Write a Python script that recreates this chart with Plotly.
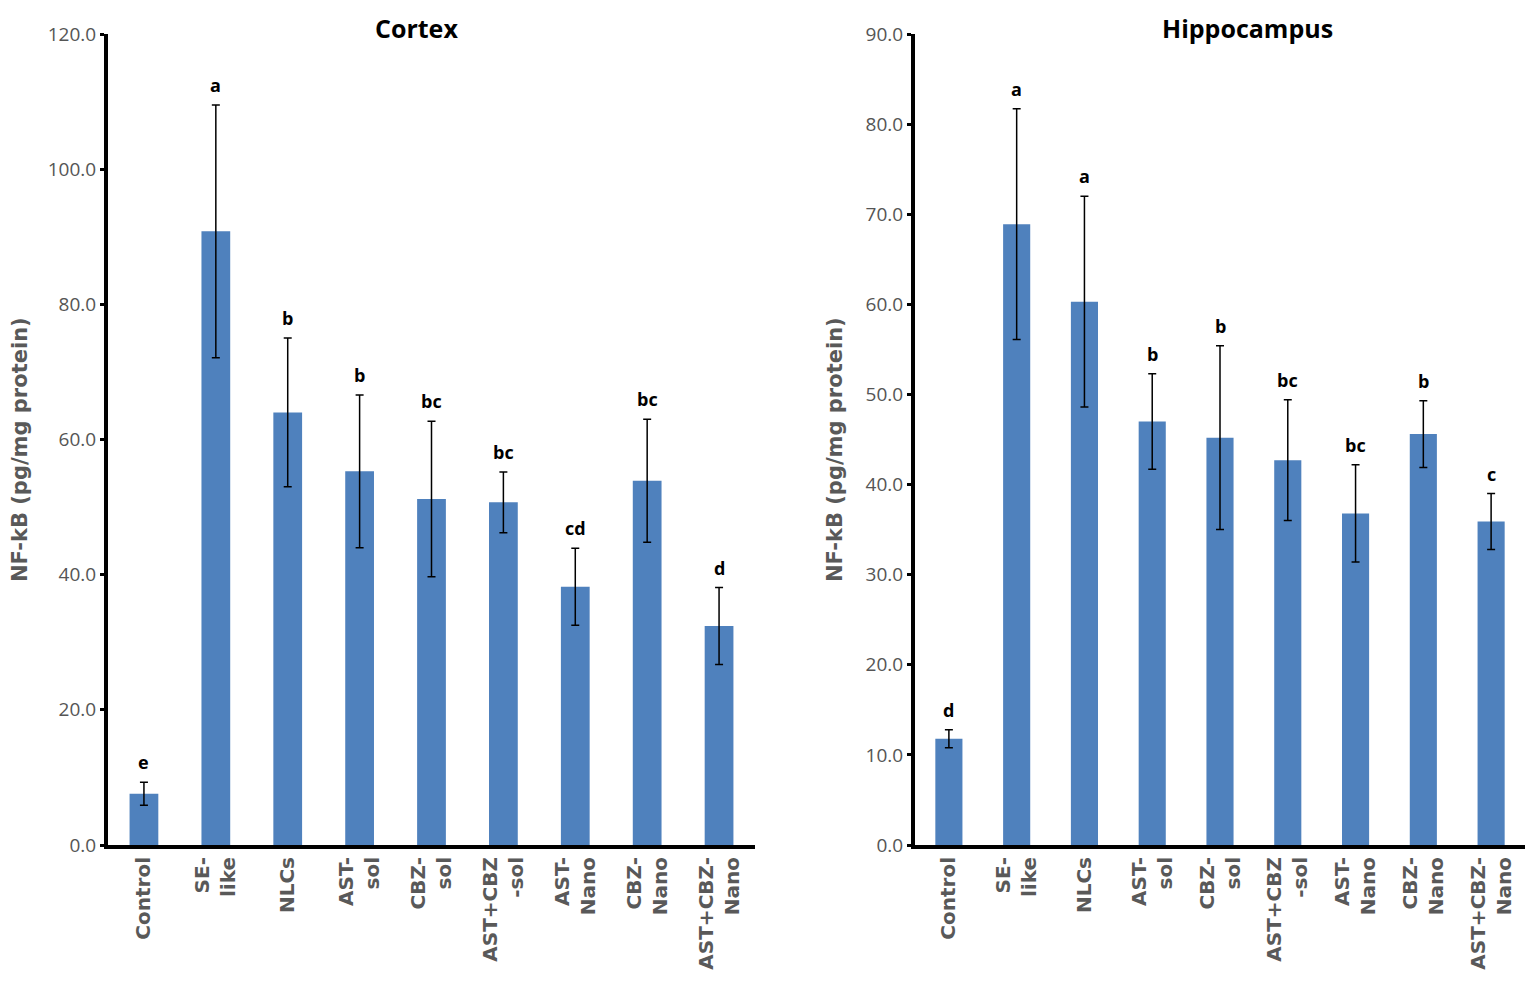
import plotly.graph_objs as go
from plotly.subplots import make_subplots

groups = ['Control', 'SE-<br>like', 'NLCs', 'AST-<br>sol', 'CBZ-<br>sol',
          'AST+CBZ<br>-sol', 'AST-<br>Nano', 'CBZ-<br>Nano', 'AST+CBZ-<br>Nano']

# cortex
cortex_mean = [7.6, 90.8, 64.0, 55.3, 51.2, 50.7, 38.2, 53.9, 32.4]
cortex_err = [1.7, 18.7, 11.0, 11.3, 11.5, 4.5, 5.7, 9.1, 5.7]
cortex_letters = ['e', 'a', 'b', 'b', 'bc', 'bc', 'cd', 'bc', 'd']

# hippocampus
hippo_mean = [11.8, 68.9, 60.3, 47.0, 45.2, 42.7, 36.8, 45.6, 35.9]
hippo_err = [1.0, 12.8, 11.7, 5.3, 10.2, 6.7, 5.4, 3.7, 3.1]
hippo_letters = ['d', 'a', 'a', 'b', 'b', 'bc', 'bc', 'b', 'c']

bar_color = '#4F81BD'
gray = '#595959'

# page has an 8px body margin, so work in a slightly smaller paper
W, H = 1519, 972


def build_bar(means, errs):
    return go.Bar(x=groups, y=means, marker=dict(color=bar_color, line=dict(width=0)),
                  error_y=dict(type='data', array=errs, visible=True,
                               color='black', thickness=1.5, width=4),
                  showlegend=False)


fig = make_subplots(1, 2)
fig.add_trace(build_bar(cortex_mean, cortex_err), 1, 1)
fig.add_trace(build_bar(hippo_mean, hippo_err), 1, 2)

annotations = []
for xref, yref, means, errs, letters in [('x', 'y', cortex_mean, cortex_err, cortex_letters),
                                         ('x2', 'y2', hippo_mean, hippo_err, hippo_letters)]:
    for g, m, e, t in zip(groups, means, errs, letters):
        annotations.append(dict(x=g, y=m + e, xref=xref, yref=yref, text='<b>%s</b>' % t,
                                showarrow=False, yanchor='bottom', yshift=6,
                                font=dict(family='Open Sans', size=18, color='black')))

for cx, name in [(408, 'Cortex'), (1239, 'Hippocampus')]:
    annotations.append(dict(x=cx / W, y=1 - 20 / H, xref='paper', yref='paper',
                            xanchor='center', yanchor='middle',
                            text='<b>%s</b>' % name, showarrow=False,
                            font=dict(family='Open Sans', size=25, color='black')))

# y axis titles
for cx in [12, 827]:
    annotations.append(dict(x=cx / W, y=1 - 442 / H, xref='paper', yref='paper',
                            xanchor='center', yanchor='middle', textangle=-90,
                            text='<b>NF-kB (pg/mg protein)</b>', showarrow=False,
                            font=dict(family='DejaVu Sans', size=21, color=gray)))

axis_common = dict(showline=True, linecolor='black', linewidth=4, showgrid=False,
                   zeroline=False, ticks='outside', tickcolor='black', automargin=False)

fig.update_xaxes(axis_common, tickangle=-90, ticklen=0,
                 tickfont=dict(family='DejaVu Sans', size=20, color=gray, weight='bold'))
fig.update_yaxes(axis_common, ticklen=4, tickwidth=3, tickformat='.1f',
                 tickfont=dict(family='Open Sans', size=19, color='#555555'))

fig.update_layout(
    width=W, height=H,
    margin=dict(l=0, r=0, t=0, b=0, autoexpand=False),
    plot_bgcolor='white', paper_bgcolor='white',
    bargap=0.6,
    xaxis=dict(domain=[100 / W, 747 / W]),
    xaxis2=dict(domain=[907 / W, 1517 / W]),
    yaxis=dict(domain=[1 - 837 / H, 1 - 26 / H], range=[0, 120], dtick=20),
    yaxis2=dict(domain=[1 - 837 / H, 1 - 26 / H], range=[0, 90], dtick=10),
    annotations=annotations,
)

fig.write_html('out.html')
